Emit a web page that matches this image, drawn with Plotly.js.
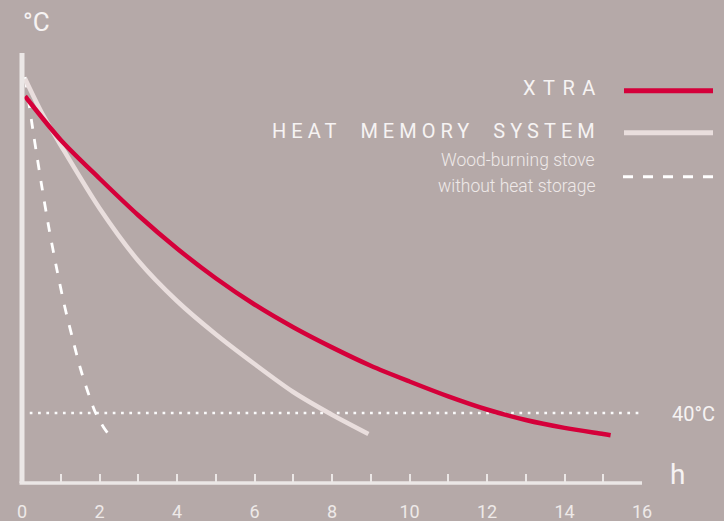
<!DOCTYPE html>
<html>
<head>
<meta charset="utf-8">
<script src="https://cdn.plot.ly/plotly-3.0.1.min.js"></script>
<style>
html,body{margin:0;padding:0;background:#b5a9a8;}
#chart{width:724px;height:521px;}
</style>
</head>
<body>
<div id="chart"></div>
<script>
// ---- data (hours, °C) ----
const xtraHours = [0.08, 1, 2, 3, 4, 5, 6, 7, 8, 9, 10, 11, 12, 13, 14, 15, 15.19];
const xtraTemp  = [221, 196, 174, 153, 134, 117, 102, 89, 77.5, 67, 58, 49.5, 42, 36, 31.5, 28, 27.3];

const hmsHours = [0.08, 0.5, 1, 2, 3, 4, 5, 6, 7, 8, 8.94];
const hmsTemp  = [231, 212, 193, 157, 127, 104, 85, 68, 52, 39, 28];

const stoveHours = [0.08, 0.3, 0.5, 0.7, 0.9, 1.1, 1.3, 1.5, 1.7, 1.9, 2.1, 2.23];
const stoveTemp  = [232, 199, 171, 145, 122, 101, 83, 66, 52, 40, 32, 28];

const refHours = [0.2, 16];
const refTemp  = [40, 40];

const tickValues = [0,1,2,3,4,5,6,7,8,9,10,11,12,13,14,15,16];
const tickLabels = ['0','','2','','4','','6','','8','','10','','12','','14','','16'];

const seriesNames = ['XTRA', 'HEAT MEMORY SYSTEM', 'Wood-burning stove', 'without heat storage'];

// ---- styles ----
const bg = '#b5a9a8';
const red = '#d5003a';
const pale = '#e9dedd';
const axisCol = '#ebe7e6';
const txt = '#f6f3f3';

const traces = [
  {x: refHours, y: refTemp, mode:'lines', line:{color:'#fbfbfb', width:2.7, dash:'2.7px,5.6px'}, hoverinfo:'skip'},
  {x: stoveHours, y: stoveTemp, mode:'lines', line:{color:'#ffffff', width:2.8, dash:'10px,11px', shape:'spline', smoothing:0.8}, hoverinfo:'skip'},
  {x: hmsHours, y: hmsTemp, mode:'lines', line:{color:pale, width:4.5, shape:'spline', smoothing:0.8}, hoverinfo:'skip'},
  {x: xtraHours, y: xtraTemp, mode:'lines', line:{color:red, width:4.5, shape:'spline', smoothing:0.8}, hoverinfo:'skip'}
];

const W = 620, H = 430;
const px = v => (v - 22) / W;       // figure px -> paper x
const py = v => (483 - v) / H;      // figure px -> paper y

const spaced = (s, ls) => '<span style="letter-spacing:' + ls + 'px">' + s.split(' ').join('\u00a0\u2009') + '</span>';

const layout = {
  width: 724, height: 521,
  paper_bgcolor: bg, plot_bgcolor: bg,
  margin: {l:22, r:82, t:53, b:38, pad:0},
  showlegend: false,
  xaxis: {
    range: [0, 16], showgrid:false, zeroline:false, showline:false,
    tickmode:'array', tickvals: tickValues, ticktext: tickLabels,
    ticks:'inside', ticklen:9, tickwidth:2, tickcolor: axisCol,
    ticklabelstandoff: 16,
    tickfont:{family:'Liberation Sans Narrow, Roboto, sans-serif', size:18, color:'#eee9e8'},
    fixedrange:true
  },
  yaxis: {
    range: [0, 430/1.75], showgrid:false, zeroline:false, showline:false,
    showticklabels:false, ticks:'', fixedrange:true
  },
  shapes: [
    {type:'line', xref:'paper', yref:'paper', x0:0, x1:0, y0:0, y1:1, line:{color:axisCol, width:5}, layer:'above'},
    {type:'line', xref:'paper', yref:'paper', x0:px(19.5), x1:1, y0:0, y1:0, line:{color:axisCol, width:3.5}, layer:'above'},
    {type:'line', xref:'paper', yref:'paper', x0:px(624), x1:px(713), y0:py(90.7), y1:py(90.7), line:{color:red, width:5}},
    {type:'line', xref:'paper', yref:'paper', x0:px(624), x1:px(713), y0:py(132.7), y1:py(132.7), line:{color:pale, width:5}},
    {type:'line', xref:'paper', yref:'paper', x0:px(623), x1:px(713), y0:py(176.7), y1:py(176.7), line:{color:'#ffffff', width:3, dash:'10px,10px'}}
  ],
  annotations: [
    {xref:'paper', yref:'paper', x:px(597 + 7.5), y:py(88), xanchor:'right', yanchor:'middle', showarrow:false,
     text: spaced(seriesNames[0], 7.5), font:{family:'Roboto, sans-serif', size:20, color:txt}},
    {xref:'paper', yref:'paper', x:px(597 + 5), y:py(131), xanchor:'right', yanchor:'middle', showarrow:false,
     text: spaced(seriesNames[1], 5), font:{family:'Roboto, sans-serif', size:20, color:txt}},
    {xref:'paper', yref:'paper', x:px(597), y:py(160), xanchor:'right', yanchor:'middle', showarrow:false,
     text: seriesNames[2], font:{family:'Roboto, sans-serif', size:17.5, weight:300, color:'#efe9e9'}},
    {xref:'paper', yref:'paper', x:px(597), y:py(186), xanchor:'right', yanchor:'middle', showarrow:false,
     text: seriesNames[3], font:{family:'Roboto, sans-serif', size:17.5, weight:300, color:'#efe9e9'}},
    {xref:'paper', yref:'paper', x:px(36), y:py(22), xanchor:'center', yanchor:'middle', showarrow:false,
     text:'°C', font:{family:'Roboto, sans-serif', size:26, color:txt}},
    {xref:'paper', yref:'paper', x:px(677), y:py(474), xanchor:'center', yanchor:'middle', showarrow:false,
     text:'h', font:{family:'Roboto, sans-serif', size:28, color:txt}},
    {xref:'paper', yref:'y', x:px(693.5), y:refTemp[0], yshift:-1, xanchor:'center', yanchor:'middle', showarrow:false,
     text:'40°C', font:{family:'Roboto, sans-serif', size:20, color:txt}}
  ]
};

Plotly.newPlot('chart', traces, layout, {displayModeBar:false, staticPlot:true});
</script>
</body>
</html>
